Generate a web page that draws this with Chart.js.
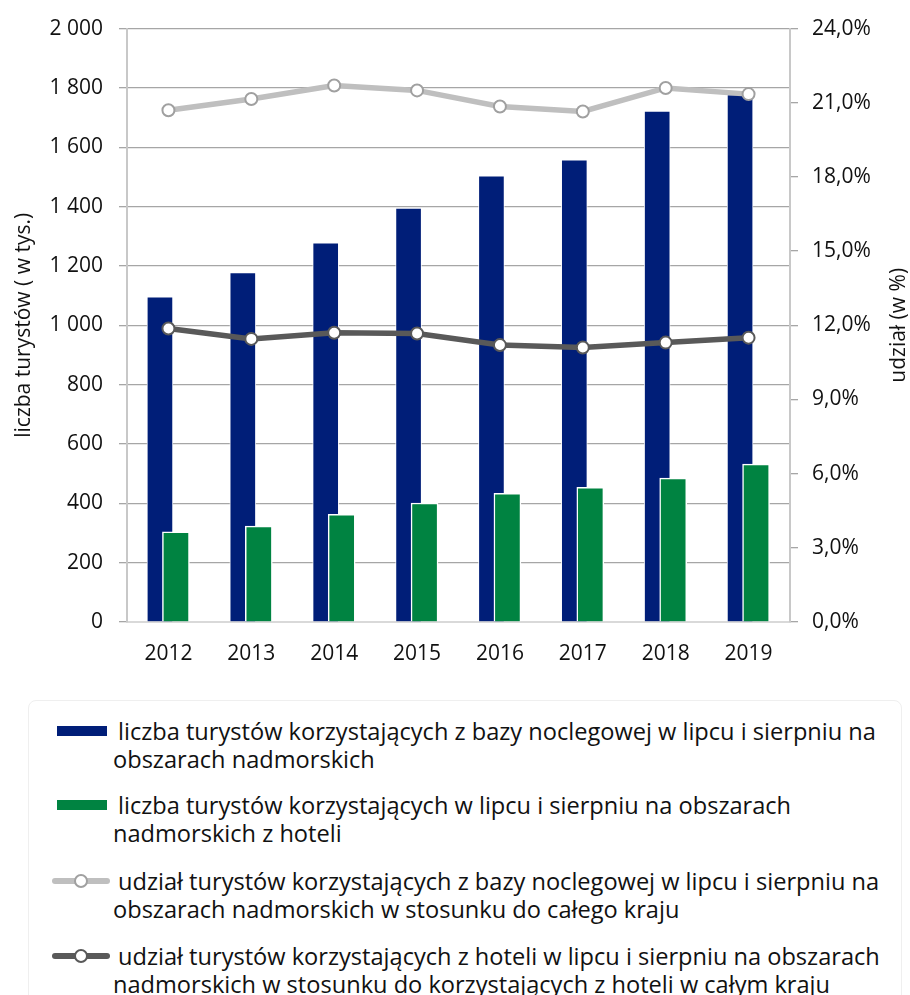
<!DOCTYPE html>
<html lang="pl">
<head>
<meta charset="utf-8">
<script src="https://cdn.jsdelivr.net/npm/chart.js@4"></script>
<style>
  body { margin: 0; background: #fff; font-family: "Open Sans", sans-serif; color: #111; }
  #wrap { position: relative; width: 910px; height: 995px; overflow: hidden; }
  #legendBox { position: absolute; left: 28px; top: 700px; width: 872px; height: 320px;
    border: 1px solid #efefef; border-radius: 8px; }
  .item { position: absolute; left: 113px; font-size: 23.6px; line-height: 28px; white-space: nowrap; }
  .item .first { padding-left: 5px; }
  .sym { position: absolute; }
</style>
</head>
<body>
<div id="wrap">
  <canvas id="wykres" width="910" height="690"></canvas>
  <div id="legendBox"></div>
  <div id="legenda"></div>
</div>
<script>
const lata = ['2012', '2013', '2014', '2015', '2016', '2017', '2018', '2019'];
// liczba turystów w tys.
const turysciBaza = [1096, 1178, 1278, 1395, 1504, 1558, 1722, 1778];
const turysciHotele = [304, 323, 363, 401, 434, 454, 485, 532];
// udział w %
const udzialBaza = [20.7, 21.15, 21.7, 21.5, 20.85, 20.65, 21.6, 21.35];
const udzialHotele = [11.87, 11.45, 11.7, 11.67, 11.2, 11.1, 11.3, 11.5];

const nazwy = [
  ['liczba turystów korzystających z bazy noclegowej w lipcu i sierpniu na', 'obszarach nadmorskich'],
  ['liczba turystów korzystających w lipcu i sierpniu na obszarach', 'nadmorskich z hoteli'],
  ['udział turystów korzystających z bazy noclegowej w lipcu i sierpniu na', 'obszarach nadmorskich w stosunku do całego kraju'],
  ['udział turystów korzystających z hoteli w lipcu i sierpniu na obszarach', 'nadmorskich w stosunku do korzystających z hoteli w całym kraju']
];

const granat = '#001e78';
const zielen = '#008341';
const jasnySzary = '#bfbfbf';
const ciemnySzary = '#595959';
const siatka = '#a6a6a6';
const rodzina = '"Open Sans", sans-serif';
const font = { family: rodzina, size: 21 };

// przesunięcie słupków, żeby na siebie zachodziły
const przesunSlupki = {
  id: 'przesunSlupki',
  afterDatasetsUpdate(chart) {
    chart.getDatasetMeta(0).data.forEach(b => { b.x -= 8.5; });
    chart.getDatasetMeta(1).data.forEach(b => { b.x += 7.5; });
  }
};

// tytuł prawej osi czytany od dołu do góry
const tytulPrawy = {
  id: 'tytulPrawy',
  afterDraw(chart) {
    const c = chart.ctx, a = chart.chartArea;
    c.save();
    c.translate(899, (a.top + a.bottom) / 2);
    c.rotate(-Math.PI / 2);
    c.font = '21px ' + rodzina;
    c.fillStyle = '#111';
    c.textAlign = 'center';
    c.textBaseline = 'middle';
    c.fillText('udział (w %)', 0, 0);
    c.restore();
  }
};

new Chart(document.getElementById('wykres').getContext('2d'), {
  type: 'bar',
  data: {
    labels: lata,
    datasets: [
      { label: nazwy[0].join(' '), data: turysciBaza, backgroundColor: granat,
        borderColor: 'rgba(255,255,255,0.85)', borderWidth: 1, barThickness: 26,
        grouped: false, yAxisID: 'y', order: 3 },
      { label: nazwy[1].join(' '), data: turysciHotele, backgroundColor: zielen,
        borderColor: '#ffffff', borderWidth: 1.5, barThickness: 27,
        grouped: false, yAxisID: 'y', order: 2 },
      { type: 'line', label: nazwy[2].join(' '), data: udzialBaza, yAxisID: 'y2',
        borderColor: jasnySzary, borderWidth: 5.5, pointRadius: 6, pointBorderWidth: 2,
        pointBackgroundColor: '#fff', pointBorderColor: '#a0a0a0', order: 1 },
      { type: 'line', label: nazwy[3].join(' '), data: udzialHotele, yAxisID: 'y2',
        borderColor: ciemnySzary, borderWidth: 5.5, pointRadius: 6, pointBorderWidth: 2,
        pointBackgroundColor: '#fff', pointBorderColor: ciemnySzary, order: 0 }
    ]
  },
  options: {
    responsive: false,
    animation: false,
    layout: { padding: { top: 25, left: 0, right: 0, bottom: 0 } },
    plugins: { legend: { display: false }, tooltip: { enabled: false } },
    scales: {
      x: {
        grid: { display: false },
        border: { display: true, color: '#d9d9d9', width: 2 },
        ticks: { color: '#111', font: font, padding: 11 },
        afterFit: s => { s.height = 68; }
      },
      y: {
        position: 'left', min: 0, max: 2000,
        ticks: { stepSize: 200, color: '#111', font: font, padding: 16,
          callback: v => String(v).replace(/^(\d)(\d{3})$/, '$1 $2') },
        grid: { color: siatka, lineWidth: 1.3, tickLength: 8 },
        border: { color: '#c8c8c8', width: 2 },
        title: { display: true, text: 'liczba turystów ( w tys.)', color: '#111',
          font: { family: rodzina, size: 21 }, padding: { top: 11, bottom: 0 } },
        afterFit: s => { s.width = 127; }
      },
      y2: {
        position: 'right', min: 0, max: 24,
        ticks: { stepSize: 3, color: '#111', font: font, padding: 14,
          callback: v => v.toFixed(1).replace('.', ',') + '%' },
        grid: { drawOnChartArea: false, color: siatka, lineWidth: 1.3, tickLength: 8 },
        border: { color: '#c8c8c8', width: 2 },
        afterFit: s => { s.width = 120; }
      }
    }
  },
  plugins: [przesunSlupki, tytulPrawy]
});

// legenda w HTML
const symbole = [
  { typ: 'rect', kolor: granat },
  { typ: 'rect', kolor: zielen },
  { typ: 'line', kolor: jasnySzary, obwod: '#a0a0a0' },
  { typ: 'line', kolor: ciemnySzary, obwod: ciemnySzary }
];
const gory = [717, 791, 867, 942];
const legenda = document.getElementById('legenda');
nazwy.forEach((linie, i) => {
  const s = symbole[i];
  const sym = document.createElement('div');
  sym.className = 'sym';
  if (s.typ === 'rect') {
    sym.style.cssText = `left:57px;top:${gory[i] + 9}px;width:50px;height:10px;background:${s.kolor}`;
  } else {
    sym.style.cssText = `left:52px;top:${gory[i] + 11}px;width:58px;height:6px;border-radius:3px;background:${s.kolor}`;
    const kolko = document.createElement('div');
    kolko.style.cssText = `position:absolute;left:22px;top:-4px;width:10px;height:10px;border-radius:50%;background:#fff;border:2px solid ${s.obwod}`;
    sym.appendChild(kolko);
  }
  legenda.appendChild(sym);
  const el = document.createElement('div');
  el.className = 'item';
  el.style.top = gory[i] + 'px';
  el.innerHTML = `<span class="first">${linie[0]}</span><br>${linie[1]}`;
  legenda.appendChild(el);
});
</script>
</body>
</html>
